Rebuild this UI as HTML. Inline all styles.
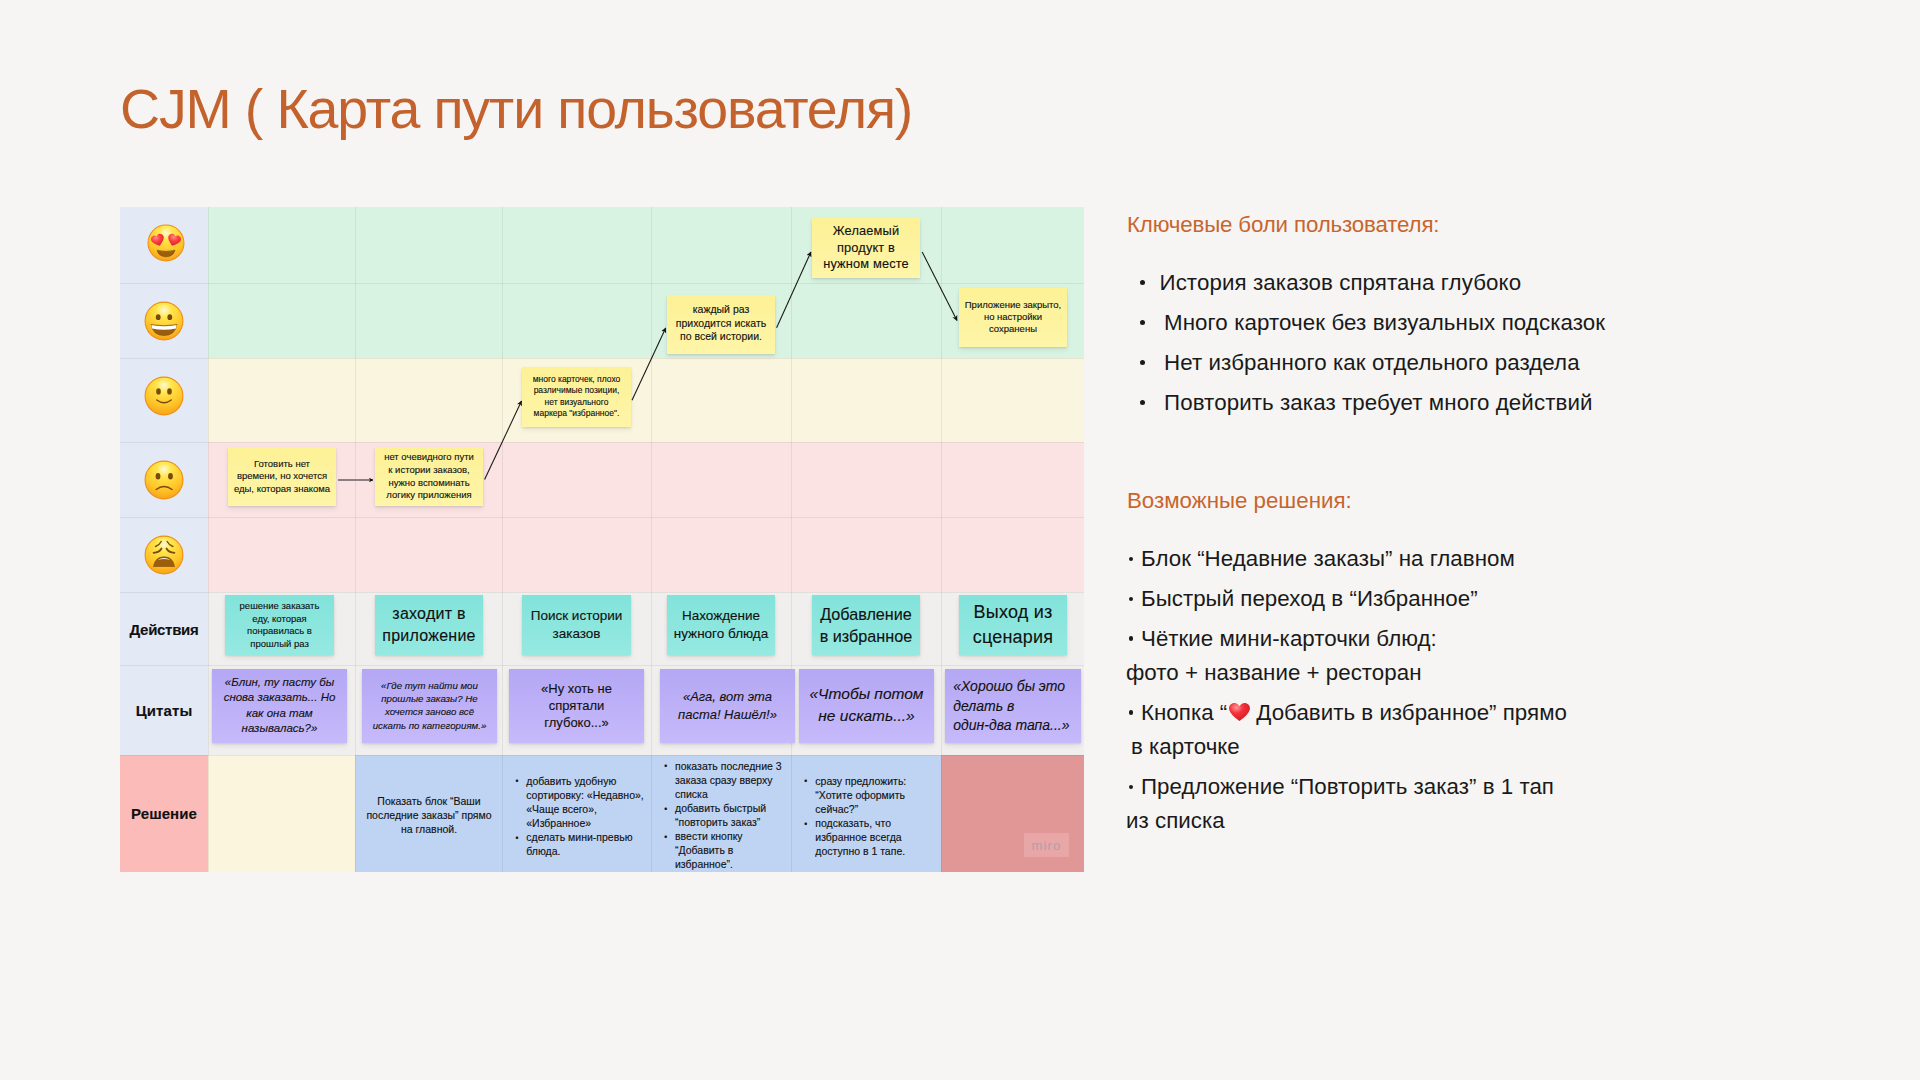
<!DOCTYPE html>
<html><head><meta charset="utf-8"><title>CJM</title>
<style>
html,body{margin:0;padding:0}
body{width:1920px;height:1080px;background:#f6f5f3;position:relative;overflow:hidden;font-family:"Liberation Sans", sans-serif}
.r{position:absolute}
.t{position:absolute;font-family:"Liberation Sans", sans-serif;-webkit-text-stroke:0.12px currentColor}
.st{box-shadow:0 1px 2px rgba(0,0,0,0.10),0 3px 5px rgba(0,0,0,0.07)}
</style></head><body>
<div class="r" style="left:120px;top:207px;width:88px;height:548px;background:#e3eaf6;"></div>
<div class="r" style="left:208px;top:207px;width:876px;height:151px;background:#d9f3e2;"></div>
<div class="r" style="left:208px;top:358px;width:876px;height:84px;background:#faf5de;"></div>
<div class="r" style="left:208px;top:442px;width:876px;height:150px;background:#fae3e2;"></div>
<div class="r" style="left:208px;top:592px;width:876px;height:163px;background:#f0efed;"></div>
<div class="r" style="left:120px;top:755px;width:88px;height:117px;background:#fbbbb8;"></div>
<div class="r" style="left:208px;top:755px;width:147px;height:117px;background:#fbf5dd;"></div>
<div class="r" style="left:355px;top:755px;width:586px;height:117px;background:#bfd3f2;"></div>
<div class="r" style="left:941px;top:755px;width:143px;height:117px;background:#e19796;"></div>
<div class="r" style="left:120px;top:283px;width:964px;height:1px;background:rgba(60,70,60,0.09);"></div>
<div class="r" style="left:120px;top:358px;width:964px;height:1px;background:rgba(60,70,60,0.09);"></div>
<div class="r" style="left:120px;top:442px;width:964px;height:1px;background:rgba(60,70,60,0.09);"></div>
<div class="r" style="left:120px;top:517px;width:964px;height:1px;background:rgba(60,70,60,0.09);"></div>
<div class="r" style="left:120px;top:592px;width:964px;height:1px;background:rgba(60,70,60,0.09);"></div>
<div class="r" style="left:120px;top:665px;width:964px;height:1px;background:rgba(60,70,60,0.09);"></div>
<div class="r" style="left:120px;top:755px;width:964px;height:1px;background:rgba(60,70,60,0.09);"></div>
<div class="r" style="left:208px;top:207px;width:1px;height:665px;background:rgba(60,70,60,0.09);"></div>
<div class="r" style="left:355px;top:207px;width:1px;height:665px;background:rgba(60,70,60,0.09);"></div>
<div class="r" style="left:502px;top:207px;width:1px;height:665px;background:rgba(60,70,60,0.09);"></div>
<div class="r" style="left:651px;top:207px;width:1px;height:665px;background:rgba(60,70,60,0.09);"></div>
<div class="r" style="left:791px;top:207px;width:1px;height:665px;background:rgba(60,70,60,0.09);"></div>
<div class="r" style="left:941px;top:207px;width:1px;height:665px;background:rgba(60,70,60,0.09);"></div>
<svg class="r" style="left:147px;top:224px" width="38" height="38" viewBox="-20 -20 40 40"><defs><radialGradient id="fglove" cx="0.5" cy="0.22" r="0.85"><stop offset="0" stop-color="#fff9d6"/><stop offset="0.22" stop-color="#ffe74d"/><stop offset="0.62" stop-color="#ffc629"/><stop offset="1" stop-color="#f59a12"/></radialGradient><radialGradient id="hglove" cx="0.4" cy="0.25" r="0.8"><stop offset="0" stop-color="#ff8a8a"/><stop offset="0.45" stop-color="#fb3d3d"/><stop offset="1" stop-color="#d81f26"/></radialGradient></defs><circle cx="0" cy="0" r="18.9" fill="url(#fglove)" stroke="#ef8f16" stroke-width="1.1"/><path d="M0,5.5 C-4,2.5 -7,0 -7,-3 C-7,-5.5 -5,-7 -3.2,-7 C-1.5,-7 -0.5,-6 0,-5 C0.5,-6 1.5,-7 3.2,-7 C5,-7 7,-5.5 7,-3 C7,0 4,2.5 0,5.5 Z" fill="url(#hglove)" transform="translate(-8.2,-2.2) rotate(-18) scale(0.98)"/><path d="M0,5.5 C-4,2.5 -7,0 -7,-3 C-7,-5.5 -5,-7 -3.2,-7 C-1.5,-7 -0.5,-6 0,-5 C0.5,-6 1.5,-7 3.2,-7 C5,-7 7,-5.5 7,-3 C7,0 4,2.5 0,5.5 Z" fill="url(#hglove)" transform="translate(8.2,-2.2) rotate(18) scale(0.98)"/><path d="M-9.5,7.5 Q0,10 9.5,7.5 Q7.5,14.5 0,14.5 Q-7.5,14.5 -9.5,7.5 Z" fill="#9a5e0c" stroke="#6e3f06" stroke-width="0.5"/></svg>
<svg class="r" style="left:144px;top:301px" width="40" height="40" viewBox="-20 -20 40 40"><defs><radialGradient id="fggrin" cx="0.5" cy="0.22" r="0.85"><stop offset="0" stop-color="#fff9d6"/><stop offset="0.22" stop-color="#ffe74d"/><stop offset="0.62" stop-color="#ffc629"/><stop offset="1" stop-color="#f59a12"/></radialGradient><radialGradient id="hggrin" cx="0.4" cy="0.25" r="0.8"><stop offset="0" stop-color="#ff8a8a"/><stop offset="0.45" stop-color="#fb3d3d"/><stop offset="1" stop-color="#d81f26"/></radialGradient></defs><circle cx="0" cy="0" r="18.9" fill="url(#fggrin)" stroke="#ef8f16" stroke-width="1.1"/><ellipse cx="-5.8" cy="-3.8" rx="2.4" ry="2.9" fill="#7a4a0a"/><ellipse cx="5.8" cy="-3.8" rx="2.4" ry="2.9" fill="#7a4a0a"/><path d="M-13,3.5 Q0,6 13,3.5 Q11,14.5 0,14.5 Q-11,14.5 -13,3.5 Z" fill="#9a5e0c" stroke="#6e3f06" stroke-width="0.5"/><path d="M-12.6,4 Q0,6.5 12.6,4 L12,7.5 Q0,10 -12,7.5 Z" fill="#fff"/></svg>
<svg class="r" style="left:144px;top:376px" width="40" height="40" viewBox="-20 -20 40 40"><defs><radialGradient id="fgsmile" cx="0.5" cy="0.22" r="0.85"><stop offset="0" stop-color="#fff9d6"/><stop offset="0.22" stop-color="#ffe74d"/><stop offset="0.62" stop-color="#ffc629"/><stop offset="1" stop-color="#f59a12"/></radialGradient><radialGradient id="hgsmile" cx="0.4" cy="0.25" r="0.8"><stop offset="0" stop-color="#ff8a8a"/><stop offset="0.45" stop-color="#fb3d3d"/><stop offset="1" stop-color="#d81f26"/></radialGradient></defs><circle cx="0" cy="0" r="18.9" fill="url(#fgsmile)" stroke="#ef8f16" stroke-width="1.1"/><ellipse cx="-5.5" cy="-4.6" rx="2.3" ry="3.2" fill="#7a4a0a"/><ellipse cx="5.5" cy="-4.6" rx="2.3" ry="3.2" fill="#7a4a0a"/><path d="M-7.2,4 Q0,9.5 7.2,4" fill="none" stroke="#7a4a0a" stroke-width="1.5" stroke-linecap="round"/></svg>
<svg class="r" style="left:144px;top:460px" width="40" height="40" viewBox="-20 -20 40 40"><defs><radialGradient id="fgfrown" cx="0.5" cy="0.22" r="0.85"><stop offset="0" stop-color="#fff9d6"/><stop offset="0.22" stop-color="#ffe74d"/><stop offset="0.62" stop-color="#ffc629"/><stop offset="1" stop-color="#f59a12"/></radialGradient><radialGradient id="hgfrown" cx="0.4" cy="0.25" r="0.8"><stop offset="0" stop-color="#ff8a8a"/><stop offset="0.45" stop-color="#fb3d3d"/><stop offset="1" stop-color="#d81f26"/></radialGradient></defs><circle cx="0" cy="0" r="18.9" fill="url(#fgfrown)" stroke="#ef8f16" stroke-width="1.1"/><ellipse cx="-6" cy="-3.8" rx="2.4" ry="3.3" fill="#7a4a0a"/><ellipse cx="6.5" cy="-3.8" rx="2.4" ry="3.3" fill="#7a4a0a"/><path d="M-7.8,9.5 Q0,3.5 8,9.5" fill="none" stroke="#7a4a0a" stroke-width="1.5" stroke-linecap="round"/></svg>
<svg class="r" style="left:144px;top:535px" width="40" height="40" viewBox="-20 -20 40 40"><defs><radialGradient id="fgweary" cx="0.5" cy="0.22" r="0.85"><stop offset="0" stop-color="#fff9d6"/><stop offset="0.22" stop-color="#ffe74d"/><stop offset="0.62" stop-color="#ffc629"/><stop offset="1" stop-color="#f59a12"/></radialGradient><radialGradient id="hgweary" cx="0.4" cy="0.25" r="0.8"><stop offset="0" stop-color="#ff8a8a"/><stop offset="0.45" stop-color="#fb3d3d"/><stop offset="1" stop-color="#d81f26"/></radialGradient></defs><circle cx="0" cy="0" r="18.9" fill="url(#fgweary)" stroke="#ef8f16" stroke-width="1.1"/><path d="M-2.8,-13.5 Q-4.5,-10 -8.5,-8.5" fill="none" stroke="#7a4a0a" stroke-width="1.4" stroke-linecap="round"/><path d="M3.2,-13.5 Q4.9,-10 8.9,-8.5" fill="none" stroke="#7a4a0a" stroke-width="1.4" stroke-linecap="round"/><path d="M-2.5,-6.5 Q-4.5,-2.5 -10.5,-2.2" fill="none" stroke="#7a4a0a" stroke-width="1.7" stroke-linecap="round"/><path d="M2.5,-6.5 Q4.5,-2.5 10.5,-2.2" fill="none" stroke="#7a4a0a" stroke-width="1.7" stroke-linecap="round"/><path d="M-10.5,11.5 Q-9,1.8 0,1.8 Q9,1.8 10.5,11.5 Z" fill="#9a5e0c" stroke="#6e3f06" stroke-width="0.5"/><path d="M-6.5,5 Q0,0.8 6.5,5 Q0,3.2 -6.5,5 Z" fill="#fff"/></svg>
<div class="t" style="top:620.90px;font-size:15px;line-height:17px;color:#111;font-weight:bold;letter-spacing:-0.3px;left:120.00px;width:88px;text-align:center;">Действия</div>
<div class="t" style="top:702.10px;font-size:15px;line-height:17px;color:#111;font-weight:bold;letter-spacing:0.1px;left:120.00px;width:88px;text-align:center;">Цитаты</div>
<div class="t" style="top:805.40px;font-size:15px;line-height:17px;color:#111;font-weight:bold;letter-spacing:0.05px;left:120.00px;width:88px;text-align:center;">Решение</div>
<div class="r st" style="left:228px;top:447px;width:108px;height:59px;background:linear-gradient(180deg,#fdf196 0%,#fdf5a8 100%)"></div>
<div class="t" style="top:457.96px;font-size:9.5px;line-height:12.5px;color:#111;left:222.00px;width:120px;text-align:center;">Готовить нет<br>времени, но хочется<br>еды, которая знакома</div>
<div class="r st" style="left:375px;top:447px;width:108px;height:59px;background:linear-gradient(180deg,#fdf196 0%,#fdf5a8 100%)"></div>
<div class="t" style="top:451.16px;font-size:9.5px;line-height:12.7px;color:#111;left:369.00px;width:120px;text-align:center;">нет очевидного пути<br>к истории заказов,<br>нужно вспоминать<br>логику приложения</div>
<div class="r st" style="left:522px;top:367px;width:109px;height:60px;background:linear-gradient(180deg,#fdf196 0%,#fdf5a8 100%)"></div>
<div class="t" style="top:373.85px;font-size:8.5px;line-height:11.4px;color:#111;left:516.50px;width:120px;text-align:center;">много карточек, плохо<br>различимые позиции,<br>нет визуального<br>маркера "избранное".</div>
<div class="r st" style="left:667px;top:295px;width:108px;height:59px;background:linear-gradient(180deg,#fdf196 0%,#fdf5a8 100%)"></div>
<div class="t" style="top:302.76px;font-size:10.5px;line-height:13.8px;color:#111;left:661.00px;width:120px;text-align:center;">каждый раз<br>приходится искать<br>по всей истории.</div>
<div class="r st" style="left:812px;top:218px;width:108px;height:60px;background:linear-gradient(180deg,#fdf196 0%,#fdf5a8 100%)"></div>
<div class="t" style="top:223.21px;font-size:12.8px;line-height:16.3px;color:#111;letter-spacing:0.15px;left:806.00px;width:120px;text-align:center;">Желаемый<br>продукт в<br>нужном месте</div>
<div class="r st" style="left:959px;top:288px;width:108px;height:59px;background:linear-gradient(180deg,#fdf196 0%,#fdf5a8 100%)"></div>
<div class="t" style="top:298.86px;font-size:9.5px;line-height:12.3px;color:#111;left:953.00px;width:120px;text-align:center;">Приложение закрыто,<br>но настройки<br>сохранены</div>
<div class="r st" style="left:225px;top:595px;width:109px;height:60px;background:linear-gradient(180deg,#82e3da 0%,#95e9e1 100%)"></div>
<div class="t" style="top:600.46px;font-size:9.5px;line-height:12.5px;color:#111;left:219.50px;width:120px;text-align:center;">решение заказать<br>еду, которая<br>понравилась в<br>прошлый раз</div>
<div class="r st" style="left:375px;top:595px;width:108px;height:60px;background:linear-gradient(180deg,#82e3da 0%,#95e9e1 100%)"></div>
<div class="t" style="top:602.76px;font-size:16px;line-height:22px;color:#111;letter-spacing:0.25px;left:369.00px;width:120px;text-align:center;">заходит в<br>приложение</div>
<div class="r st" style="left:522px;top:595px;width:109px;height:60px;background:linear-gradient(180deg,#82e3da 0%,#95e9e1 100%)"></div>
<div class="t" style="top:607.12px;font-size:13.5px;line-height:17.4px;color:#111;left:516.50px;width:120px;text-align:center;">Поиск истории<br>заказов</div>
<div class="r st" style="left:667px;top:595px;width:108px;height:60px;background:linear-gradient(180deg,#82e3da 0%,#95e9e1 100%)"></div>
<div class="t" style="top:607.12px;font-size:13.5px;line-height:17.4px;color:#111;left:661.00px;width:120px;text-align:center;">Нахождение<br>нужного блюда</div>
<div class="r st" style="left:812px;top:595px;width:108px;height:60px;background:linear-gradient(180deg,#82e3da 0%,#95e9e1 100%)"></div>
<div class="t" style="top:602.99px;font-size:16.2px;line-height:22px;color:#111;left:806.00px;width:120px;text-align:center;">Добавление<br>в избранное</div>
<div class="r st" style="left:959px;top:595px;width:108px;height:60px;background:linear-gradient(180deg,#82e3da 0%,#95e9e1 100%)"></div>
<div class="t" style="top:599.56px;font-size:18px;line-height:25px;color:#111;letter-spacing:0.2px;left:953.00px;width:120px;text-align:center;">Выход из<br>сценария</div>
<div class="r st" style="left:212px;top:669px;width:135px;height:74px;background:linear-gradient(180deg,#b4a7f4 0%,#c6bafb 100%)"></div>
<div class="t" style="top:674.92px;font-size:11.5px;line-height:15.4px;color:#111;font-style:italic;left:204.50px;width:150px;text-align:center;">«Блин, ту пасту бы<br>снова заказать... Но<br>как она там<br>называлась?»</div>
<div class="r st" style="left:362px;top:669px;width:135px;height:74px;background:linear-gradient(180deg,#b4a7f4 0%,#c6bafb 100%)"></div>
<div class="t" style="top:678.94px;font-size:9.7px;line-height:13.2px;color:#111;font-style:italic;left:354.50px;width:150px;text-align:center;">«Где тут найти мои<br>прошлые заказы? Не<br>хочется заново всё<br>искать по категориям.»</div>
<div class="r st" style="left:509px;top:669px;width:135px;height:74px;background:linear-gradient(180deg,#b4a7f4 0%,#c6bafb 100%)"></div>
<div class="t" style="top:679.80px;font-size:13px;line-height:17px;color:#111;left:501.50px;width:150px;text-align:center;">«Ну хоть не<br>спрятали<br>глубоко...»</div>
<div class="r st" style="left:660px;top:669px;width:135px;height:74px;background:linear-gradient(180deg,#b4a7f4 0%,#c6bafb 100%)"></div>
<div class="t" style="top:688.30px;font-size:13px;line-height:17.2px;color:#111;font-style:italic;left:652.50px;width:150px;text-align:center;">«Ага, вот эта<br>паста! Нашёл!»</div>
<div class="r st" style="left:799px;top:669px;width:135px;height:74px;background:linear-gradient(180deg,#b4a7f4 0%,#c6bafb 100%)"></div>
<div class="t" style="top:683.43px;font-size:15.5px;line-height:22px;color:#111;font-style:italic;left:791.50px;width:150px;text-align:center;">«Чтобы потом<br>не искать...»</div>
<div class="r st" style="left:945px;top:669px;width:136px;height:74px;background:linear-gradient(180deg,#b4a7f4 0%,#c6bafb 100%)"></div>
<div class="t" style="top:677.30px;font-size:14px;line-height:19.3px;color:#111;font-style:italic;left:953.30px;white-space:nowrap;">«Хорошо бы это<br>делать в<br>один-два тапа...»</div>
<div class="t" style="top:794.06px;font-size:10.5px;line-height:14px;color:#111;left:354.00px;width:150px;text-align:center;">Показать блок “Ваши<br>последние заказы” прямо<br>на главной.</div>
<div class="t" style="top:774.24px;font-size:8.4px;line-height:14.1px;color:#111;left:515.50px;white-space:nowrap;">•</div>
<div class="t" style="top:773.51px;font-size:10.5px;line-height:14.1px;color:#111;left:526.25px;white-space:nowrap;">добавить удобную</div>
<div class="t" style="top:787.61px;font-size:10.5px;line-height:14.1px;color:#111;left:526.25px;white-space:nowrap;">сортировку: «Недавно»,</div>
<div class="t" style="top:801.71px;font-size:10.5px;line-height:14.1px;color:#111;left:526.25px;white-space:nowrap;">«Чаще всего»,</div>
<div class="t" style="top:815.81px;font-size:10.5px;line-height:14.1px;color:#111;left:526.25px;white-space:nowrap;">«Избранное»</div>
<div class="t" style="top:830.64px;font-size:8.4px;line-height:14.1px;color:#111;left:515.50px;white-space:nowrap;">•</div>
<div class="t" style="top:829.91px;font-size:10.5px;line-height:14.1px;color:#111;left:526.25px;white-space:nowrap;">сделать мини-превью</div>
<div class="t" style="top:844.01px;font-size:10.5px;line-height:14.1px;color:#111;left:526.25px;white-space:nowrap;">блюда.</div>
<div class="t" style="top:759.44px;font-size:8.4px;line-height:14.1px;color:#111;left:664.20px;white-space:nowrap;">•</div>
<div class="t" style="top:758.71px;font-size:10.5px;line-height:14.1px;color:#111;left:675.00px;white-space:nowrap;">показать последние 3</div>
<div class="t" style="top:772.81px;font-size:10.5px;line-height:14.1px;color:#111;left:675.00px;white-space:nowrap;">заказа сразу вверху</div>
<div class="t" style="top:786.91px;font-size:10.5px;line-height:14.1px;color:#111;left:675.00px;white-space:nowrap;">списка</div>
<div class="t" style="top:801.74px;font-size:8.4px;line-height:14.1px;color:#111;left:664.20px;white-space:nowrap;">•</div>
<div class="t" style="top:801.01px;font-size:10.5px;line-height:14.1px;color:#111;left:675.00px;white-space:nowrap;">добавить быстрый</div>
<div class="t" style="top:815.11px;font-size:10.5px;line-height:14.1px;color:#111;left:675.00px;white-space:nowrap;">“повторить заказ”</div>
<div class="t" style="top:829.94px;font-size:8.4px;line-height:14.1px;color:#111;left:664.20px;white-space:nowrap;">•</div>
<div class="t" style="top:829.21px;font-size:10.5px;line-height:14.1px;color:#111;left:675.00px;white-space:nowrap;">ввести кнопку</div>
<div class="t" style="top:843.31px;font-size:10.5px;line-height:14.1px;color:#111;left:675.00px;white-space:nowrap;">“Добавить в</div>
<div class="t" style="top:857.41px;font-size:10.5px;line-height:14.1px;color:#111;left:675.00px;white-space:nowrap;">избранное”.</div>
<div class="t" style="top:774.24px;font-size:8.4px;line-height:14.1px;color:#111;left:804.20px;white-space:nowrap;">•</div>
<div class="t" style="top:773.51px;font-size:10.5px;line-height:14.1px;color:#111;left:815.30px;white-space:nowrap;">сразу предложить:</div>
<div class="t" style="top:787.61px;font-size:10.5px;line-height:14.1px;color:#111;left:815.30px;white-space:nowrap;">“Хотите оформить</div>
<div class="t" style="top:801.71px;font-size:10.5px;line-height:14.1px;color:#111;left:815.30px;white-space:nowrap;">сейчас?”</div>
<div class="t" style="top:816.54px;font-size:8.4px;line-height:14.1px;color:#111;left:804.20px;white-space:nowrap;">•</div>
<div class="t" style="top:815.81px;font-size:10.5px;line-height:14.1px;color:#111;left:815.30px;white-space:nowrap;">подсказать, что</div>
<div class="t" style="top:829.91px;font-size:10.5px;line-height:14.1px;color:#111;left:815.30px;white-space:nowrap;">избранное всегда</div>
<div class="t" style="top:844.01px;font-size:10.5px;line-height:14.1px;color:#111;left:815.30px;white-space:nowrap;">доступно в 1 тапе.</div>
<div class="r" style="left:1024px;top:833px;width:45px;height:24px;background:#e8a7a6"></div>
<div class="t" style="top:839.30px;font-size:13px;line-height:14px;color:#b0a2ab;letter-spacing:1.2px;left:1024.00px;width:45px;text-align:center;">miro</div>
<svg class="r" style="left:0;top:0" width="1920" height="1080" viewBox="0 0 1920 1080"><defs><marker id="ah" viewBox="0 0 10 10" refX="9" refY="5" markerWidth="5.5" markerHeight="5.5" markerUnits="userSpaceOnUse" orient="auto-start-reverse"><path d="M0,0 L10,5 L0,10 L3,5 Z" fill="#111"/></marker></defs><marker id="ah2" viewBox="0 0 10 10" refX="9" refY="5" markerWidth="4.6" markerHeight="4.6" markerUnits="userSpaceOnUse" orient="auto"><path d="M0,0 L10,5 L0,10 L3,5 Z" fill="#111"/></marker><line x1="338" y1="480" x2="373" y2="480" stroke="#8b7f82" stroke-width="2" marker-end="url(#ah2)"/><line x1="484.6" y1="479.5" x2="521.5" y2="401" stroke="#1a1a1a" stroke-width="1.1" marker-end="url(#ah)"/><line x1="632" y1="400.3" x2="665.7" y2="328" stroke="#1a1a1a" stroke-width="1.1" marker-end="url(#ah)"/><line x1="776.6" y1="327.7" x2="810.9" y2="252" stroke="#1a1a1a" stroke-width="1.1" marker-end="url(#ah)"/><line x1="922.2" y1="252" x2="957" y2="320.5" stroke="#1a1a1a" stroke-width="1.1" marker-end="url(#ah)"/></svg>
<div class="t" style="top:75.97px;font-size:55.5px;line-height:66px;color:#c4622d;letter-spacing:-1.16px;left:120.00px;white-space:nowrap;font-weight:normal;-webkit-text-stroke:0;">CJM ( Карта пути пользователя)</div>
<div class="t" style="top:212.27px;font-size:22.3px;line-height:26px;color:#c8652f;letter-spacing:-0.15px;left:1127.00px;white-space:nowrap;-webkit-text-stroke:0;">Ключевые боли пользователя:</div>
<div class="r" style="left:1140px;top:280.3px;width:5px;height:5px;border-radius:50%;background:#1a1a1a"></div>
<div class="t" style="top:270.27px;font-size:22.3px;line-height:26px;color:#1a1a1a;letter-spacing:0.1px;left:1159.50px;white-space:nowrap;-webkit-text-stroke:0;">История заказов спрятана глубоко</div>
<div class="r" style="left:1140px;top:320.3px;width:5px;height:5px;border-radius:50%;background:#1a1a1a"></div>
<div class="t" style="top:310.27px;font-size:22.3px;line-height:26px;color:#1a1a1a;letter-spacing:0.1px;left:1164.00px;white-space:nowrap;-webkit-text-stroke:0;">Много карточек без визуальных подсказок</div>
<div class="r" style="left:1140px;top:360.3px;width:5px;height:5px;border-radius:50%;background:#1a1a1a"></div>
<div class="t" style="top:350.27px;font-size:22.3px;line-height:26px;color:#1a1a1a;letter-spacing:0.1px;left:1164.00px;white-space:nowrap;-webkit-text-stroke:0;">Нет избранного как отдельного раздела</div>
<div class="r" style="left:1140px;top:400.3px;width:5px;height:5px;border-radius:50%;background:#1a1a1a"></div>
<div class="t" style="top:390.27px;font-size:22.3px;line-height:26px;color:#1a1a1a;letter-spacing:0.1px;left:1164.00px;white-space:nowrap;-webkit-text-stroke:0;">Повторить заказ требует много действий</div>
<div class="t" style="top:488.27px;font-size:22.3px;line-height:26px;color:#c8652f;left:1127.00px;white-space:nowrap;-webkit-text-stroke:0;">Возможные решения:</div>
<div class="r" style="left:1128.5px;top:556.6px;width:4.5px;height:4.5px;border-radius:50%;background:#1a1a1a"></div>
<div class="t" style="top:546.07px;font-size:22.3px;line-height:26px;color:#1a1a1a;letter-spacing:0.03px;left:1141.00px;white-space:nowrap;-webkit-text-stroke:0;">Блок “Недавние заказы” на главном</div>
<div class="r" style="left:1128.5px;top:596.5px;width:4.5px;height:4.5px;border-radius:50%;background:#1a1a1a"></div>
<div class="t" style="top:585.97px;font-size:22.3px;line-height:26px;color:#1a1a1a;letter-spacing:0.03px;left:1141.00px;white-space:nowrap;-webkit-text-stroke:0;">Быстрый переход в “Избранное”</div>
<div class="r" style="left:1128.5px;top:636.4px;width:4.5px;height:4.5px;border-radius:50%;background:#1a1a1a"></div>
<div class="t" style="top:625.87px;font-size:22.3px;line-height:26px;color:#1a1a1a;letter-spacing:0.03px;left:1141.00px;white-space:nowrap;-webkit-text-stroke:0;">Чёткие мини-карточки блюд:</div>
<div class="t" style="top:659.87px;font-size:22.3px;line-height:26px;color:#1a1a1a;letter-spacing:0.03px;left:1126.00px;white-space:nowrap;-webkit-text-stroke:0;">фото + название + ресторан</div>
<div class="r" style="left:1128.5px;top:710.2px;width:4.5px;height:4.5px;border-radius:50%;background:#1a1a1a"></div>
<div class="t" style="top:699.67px;font-size:22.3px;line-height:26px;color:#1a1a1a;letter-spacing:0.03px;left:1141.00px;white-space:nowrap;-webkit-text-stroke:0;">Кнопка “<svg width="21" height="19" viewBox="0 0 22 20" style="vertical-align:-2px;margin:0 6px 0 2px"><defs><radialGradient id="hh" cx="0.35" cy="0.25" r="0.9"><stop offset="0" stop-color="#ff9a9a"/><stop offset="0.35" stop-color="#f5333b"/><stop offset="1" stop-color="#c8141d"/></radialGradient></defs><path d="M11,19 C3,13 0,9 0,5.5 C0,2.5 2.5,0 5.5,0 C8,0 10,1.5 11,3.5 C12,1.5 14,0 16.5,0 C19.5,0 22,2.5 22,5.5 C22,9 19,13 11,19 Z" fill="url(#hh)"/></svg>Добавить в избранное” прямо</div>
<div class="t" style="top:733.97px;font-size:22.3px;line-height:26px;color:#1a1a1a;letter-spacing:0.03px;left:1131.00px;white-space:nowrap;-webkit-text-stroke:0;">в карточке</div>
<div class="r" style="left:1128.5px;top:784.5px;width:4.5px;height:4.5px;border-radius:50%;background:#1a1a1a"></div>
<div class="t" style="top:773.97px;font-size:22.3px;line-height:26px;color:#1a1a1a;letter-spacing:0.03px;left:1141.00px;white-space:nowrap;-webkit-text-stroke:0;">Предложение “Повторить заказ” в 1 тап</div>
<div class="t" style="top:808.27px;font-size:22.3px;line-height:26px;color:#1a1a1a;letter-spacing:0.03px;left:1126.00px;white-space:nowrap;-webkit-text-stroke:0;">из списка</div>
</body></html>
